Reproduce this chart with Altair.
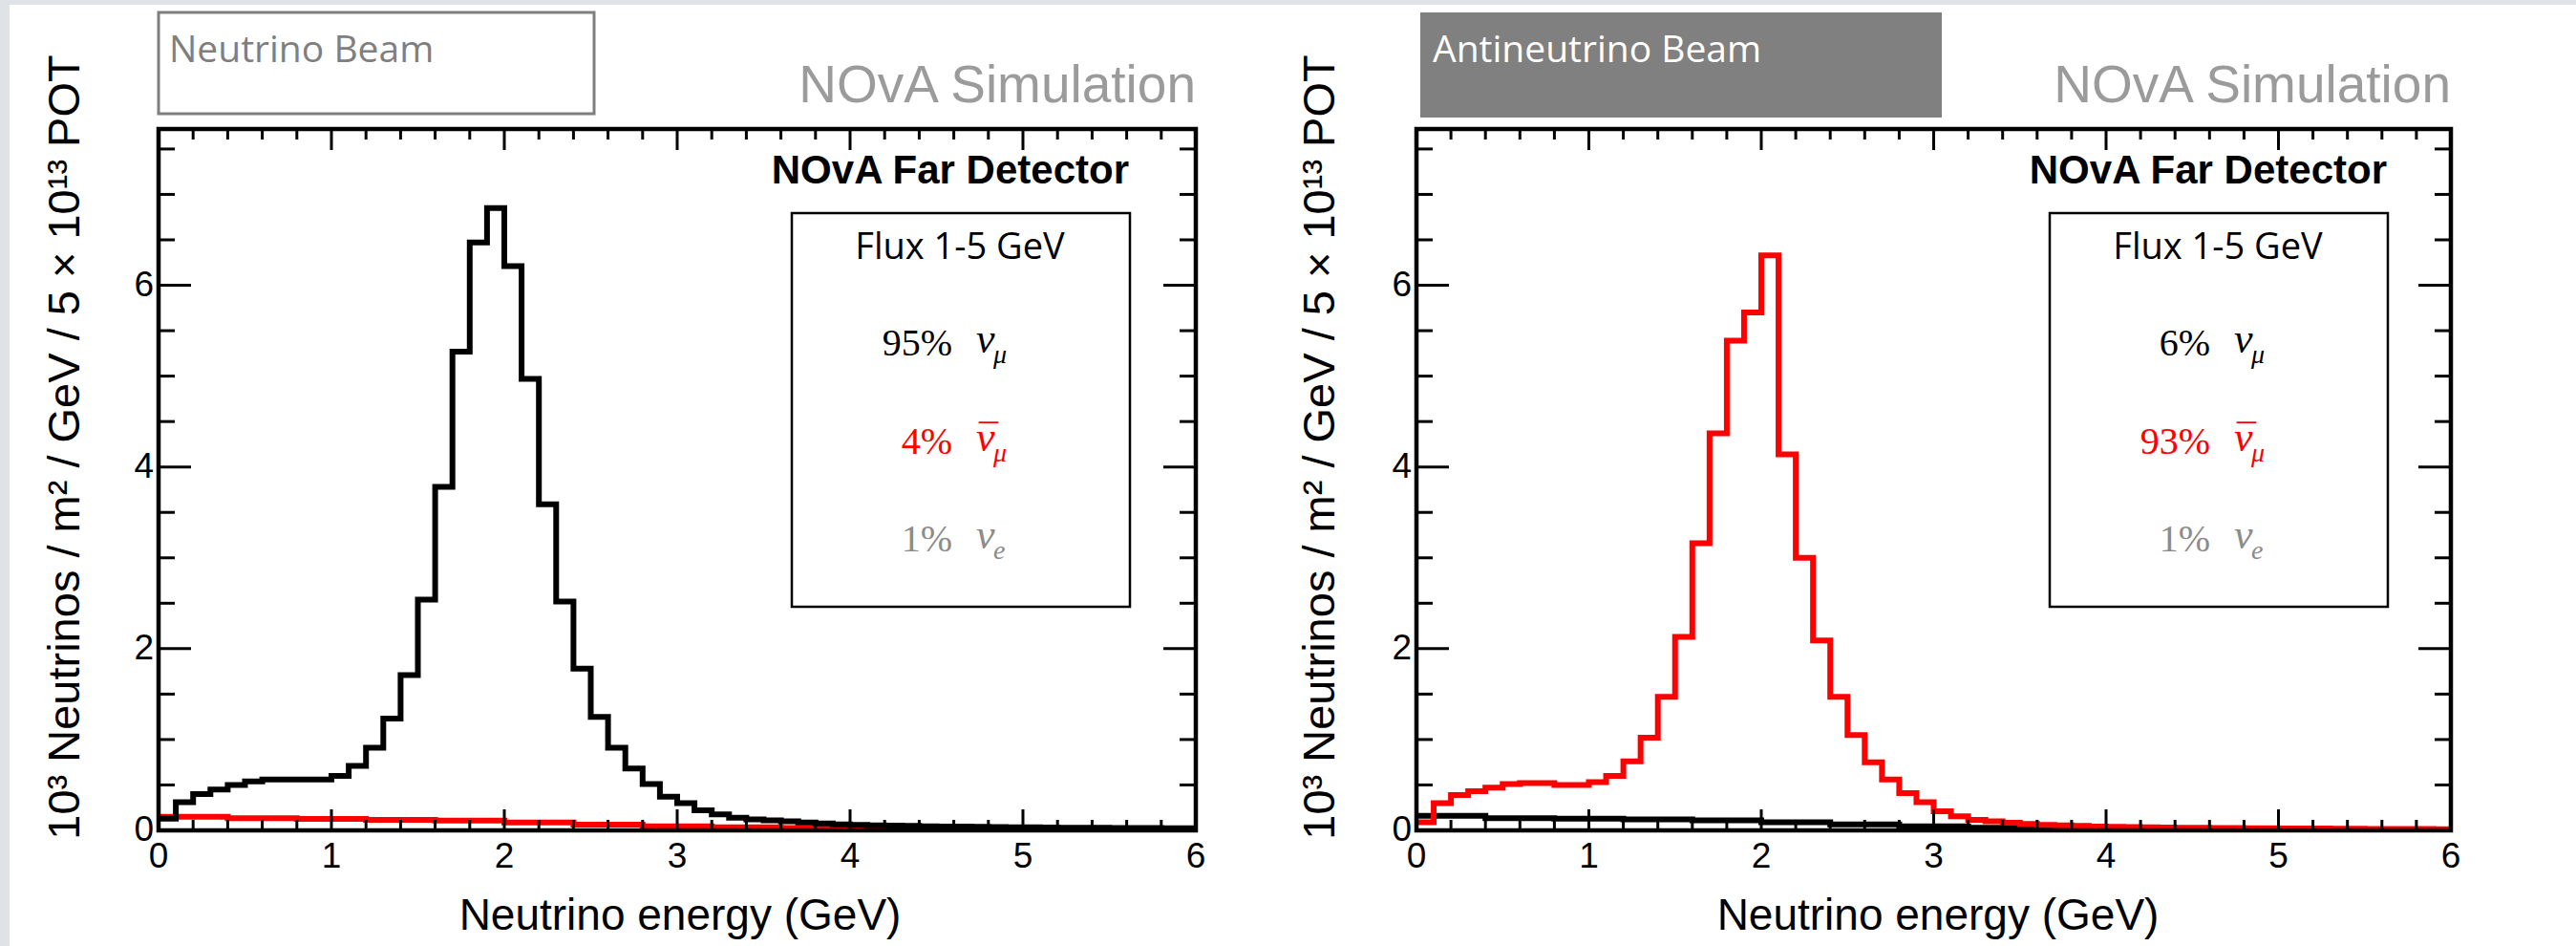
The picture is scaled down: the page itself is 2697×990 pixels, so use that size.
import altair as alt
import numpy as np
import pandas as pd

# ---------------------------------------------------------------------------
# Far Detector flux, 10^3 neutrinos / m^2 / GeV / 5e13 POT
# Main components use 0.1 GeV bins (0-6 GeV), wrong-sign components 0.4 GeV bins
# ---------------------------------------------------------------------------
FINE_BIN = 0.1
COARSE_BIN = 0.4

# Neutrino-mode beam
fhc_numu = [
    0.13, 0.31, 0.40, 0.45, 0.50, 0.54, 0.56, 0.56, 0.56, 0.56,
    0.60, 0.71, 0.91, 1.23, 1.71, 2.54, 3.78, 5.27, 6.47, 6.85,
    6.21, 4.97, 3.59, 2.52, 1.78, 1.25, 0.91, 0.68, 0.51, 0.37,
    0.30, 0.22, 0.175, 0.14, 0.12, 0.11, 0.10, 0.088, 0.077, 0.067,
    0.060, 0.056, 0.052, 0.049, 0.046, 0.043, 0.041, 0.039, 0.037, 0.035,
    0.033, 0.032, 0.030, 0.029, 0.028, 0.027, 0.026, 0.025, 0.024, 0.023,
]
fhc_numubar = [0.15, 0.133, 0.126, 0.116, 0.109, 0.088, 0.063, 0.046,
               0.033, 0.026, 0.020, 0.016, 0.013, 0.010, 0.008]

# Antineutrino-mode beam
rhc_numubar = [
    0.09, 0.30, 0.39, 0.43, 0.47, 0.51, 0.52, 0.52, 0.50, 0.50,
    0.53, 0.60, 0.76, 1.02, 1.47, 2.13, 3.16, 4.37, 5.39, 5.70,
    6.33, 4.14, 3.00, 2.09, 1.47, 1.05, 0.75, 0.56, 0.41, 0.31,
    0.21, 0.155, 0.115, 0.10, 0.085, 0.070, 0.060, 0.055, 0.049, 0.043,
    0.040, 0.037, 0.034, 0.032, 0.030, 0.028, 0.027, 0.025, 0.024, 0.023,
    0.022, 0.021, 0.020, 0.019, 0.018, 0.017, 0.016, 0.015, 0.015, 0.014,
]
rhc_numu = [0.16, 0.135, 0.13, 0.12, 0.11, 0.09, 0.065, 0.045,
            0.030, 0.022, 0.017, 0.013, 0.010, 0.008, 0.006]

# Flavour composition of the 1-5 GeV flux
fhc_fractions = ["95%", "4%", "1%"]
rhc_fractions = ["6%", "93%", "1%"]

X_MAJOR = [0, 1, 2, 3, 4, 5, 6]
X_MINOR = [round(0.2 * i, 1) for i in range(31) if i % 5]
Y_MAJOR = [0, 2, 4, 6]
Y_MINOR = [0.5, 1, 1.5, 2.5, 3, 3.5, 4.5, 5, 5.5, 6.5, 7, 7.5]
Y_MAX = 7.72

X_TITLE = "Neutrino energy (GeV)"
Y_TITLE = "10³ Neutrinos / m² / GeV / 5 × 10¹³ POT"

# ---------------------------------------------------------------------------
# Layout (pixels, relative to the plotting origin)
# ---------------------------------------------------------------------------
H = 734
LEFT_X0, LEFT_W = 0, 1086
RIGHT_X0, RIGHT_W = 1317, 1083
TOTAL_W = RIGHT_X0 + RIGHT_W

RED = "#ff0000"
GREY_TXT = "#8c8c8c"
SANS = "Liberation Sans"
SERIF = "Liberation Serif"
SLIDE = "Open Sans"

ONE = pd.DataFrame({"k": [0]})


def step_frame(values, width):
    edges = np.round(np.arange(len(values) + 1) * width, 2)
    return pd.DataFrame({"E": edges, "flux": list(values) + [values[-1]]})


def note(text, x, y, size, color="black", font=SANS, align="left",
         baseline="alphabetic", weight="normal", style="normal", angle=0):
    return alt.Chart(ONE).mark_text(
        text=text, font=font, fontSize=size, color=color, align=align,
        baseline=baseline, fontWeight=weight, fontStyle=style, angle=angle,
    ).encode(x=alt.value(x), y=alt.value(y))


def box(x1, x2, y1, y2, **style):
    return alt.Chart(ONE).mark_rect(**style).encode(
        x=alt.value(x1), x2=alt.value(x2), y=alt.value(y1), y2=alt.value(y2)
    )


yscale = alt.Scale(domain=[0, Y_MAX], nice=False, zero=True)


def panel(x0, w, main_vals, main_color, ws_vals, ws_color, beam, beam_filled,
          fractions, title_x):
    xscale = alt.Scale(domain=[0, 6], range=[x0, x0 + w], nice=False, zero=False)

    ws = alt.Chart(step_frame(ws_vals, COARSE_BIN)).mark_line(
        interpolate="step-after", color=ws_color, strokeWidth=6, clip=True
    ).encode(
        x=alt.X("E:Q", scale=xscale, axis=None),
        y=alt.Y("flux:Q", scale=yscale, axis=None),
    )
    main = alt.Chart(step_frame(main_vals, FINE_BIN)).mark_line(
        interpolate="step-after", color=main_color, strokeWidth=6, clip=True
    ).encode(
        x=alt.X("E:Q", scale=xscale, axis=None),
        y=alt.Y("flux:Q", scale=yscale, axis=None),
    )

    # ROOT-style inward ticks on all four sides
    def xticks(values, length):
        df = pd.DataFrame({"v": values})
        base = alt.Chart(df).mark_rule(color="black", strokeWidth=3)
        bottom = base.encode(x=alt.X("v:Q", scale=xscale, axis=None),
                             y=alt.value(H), y2=alt.value(H - length))
        top = base.encode(x=alt.X("v:Q", scale=xscale, axis=None),
                          y=alt.value(0), y2=alt.value(length))
        return [bottom, top]

    def yticks(values, length):
        df = pd.DataFrame({"v": values})
        base = alt.Chart(df).mark_rule(color="black", strokeWidth=3)
        left = base.encode(y=alt.Y("v:Q", scale=yscale, axis=None),
                           x=alt.value(x0), x2=alt.value(x0 + length))
        right = base.encode(y=alt.Y("v:Q", scale=yscale, axis=None),
                            x=alt.value(x0 + w), x2=alt.value(x0 + w - length))
        return [left, right]

    # tick labels
    xlab = alt.Chart(pd.DataFrame({"v": X_MAJOR})).mark_text(
        font=SANS, fontSize=37, color="black", baseline="top", align="center"
    ).encode(
        x=alt.X("v:Q", scale=xscale, axis=None),
        y=alt.value(H + 10),
        text=alt.Text("v:Q", format="d"),
    )
    ylab = alt.Chart(pd.DataFrame({"v": Y_MAJOR})).mark_text(
        font=SANS, fontSize=37, color="black", baseline="middle", align="right"
    ).encode(
        y=alt.Y("v:Q", scale=yscale, axis=None),
        x=alt.value(x0 - 5),
        text=alt.Text("v:Q", format="d"),
    )
    xtitle = note(X_TITLE, x0 + 546, H + 104, 46, align="center")
    ytitle = note(Y_TITLE, x0 + title_x, 333, 47, align="center", angle=270)

    frame = box(x0, x0 + w, 0, H, fillOpacity=0, stroke="black", strokeWidth=4.5)

    # beam label above the frame
    if beam_filled:
        beam_box = box(x0 + 4, x0 + 550, -122, -12, fill="#808080")
        beam_txt = note(beam, x0 + 17, -70, 39, color="white", font=SLIDE)
    else:
        beam_box = box(x0, x0 + 456, -122, -16, fill="white",
                       stroke="#7f7f7f", strokeWidth=3)
        beam_txt = note(beam, x0 + 11, -70, 39, color="#7f7f7f", font=SLIDE)

    sim = note("NOvA Simulation", x0 + w, -28, 55, color="#9b9b9b", align="right")
    det = note("NOvA Far Detector", x0 + 1016, 57, 42, weight="bold", align="right")

    legend = box(x0 + 663, x0 + 1017, 88, 500, fill="white",
                 stroke="black", strokeWidth=2.5)
    flux = note("Flux 1-5 GeV", x0 + 839, 136, 38, font=SLIDE, align="center")

    rows = []
    symbols = [("μ", "black", False), ("μ", RED, True), ("e", GREY_TXT, False)]
    baselines = [237, 340, 442]
    for frac, (sub, col, bar), yb in zip(fractions, symbols, baselines):
        rows.append(note(frac, x0 + 831, yb, 40, color=col, font=SERIF, align="right"))
        rows.append(note("ν", x0 + 856, yb - 3, 44, color=col, font=SERIF, style="italic"))
        rows.append(note(sub, x0 + 874, yb + 8, 28, color=col, font=SERIF, style="italic"))
        if bar:
            rows.append(note("¯", x0 + 869, yb - 3, 40, color=col, font=SERIF,
                             align="center"))

    layers = [beam_box, beam_txt, sim, ws, main]
    layers += xticks(X_MAJOR, 22) + xticks(X_MINOR, 11)
    layers += yticks(Y_MAJOR, 34) + yticks(Y_MINOR, 17)
    layers += [frame, xlab, ylab, xtitle, ytitle, det, legend, flux] + rows
    return alt.layer(*layers)


left = panel(LEFT_X0, LEFT_W, fhc_numu, "black", fhc_numubar, RED,
             "Neutrino Beam", False, fhc_fractions, -83)
right = panel(RIGHT_X0, RIGHT_W, rhc_numubar, RED, rhc_numu, "black",
              "Antineutrino Beam", True, rhc_fractions, -86)

# white slide area over the light grey page background
page = box(-156, 2531, -130, 855, fill="white")

chart = alt.layer(page, left, right).resolve_scale(
    x="independent"
).properties(
    width=TOTAL_W,
    height=H,
    autosize=alt.AutoSizeParams(type="none"),
    padding={"left": 166, "top": 135, "right": 131, "bottom": 121},
    background="#dfe3e8",
).configure_view(stroke=None)

chart.save("out.html", embed_options={"renderer": "svg", "actions": False})
